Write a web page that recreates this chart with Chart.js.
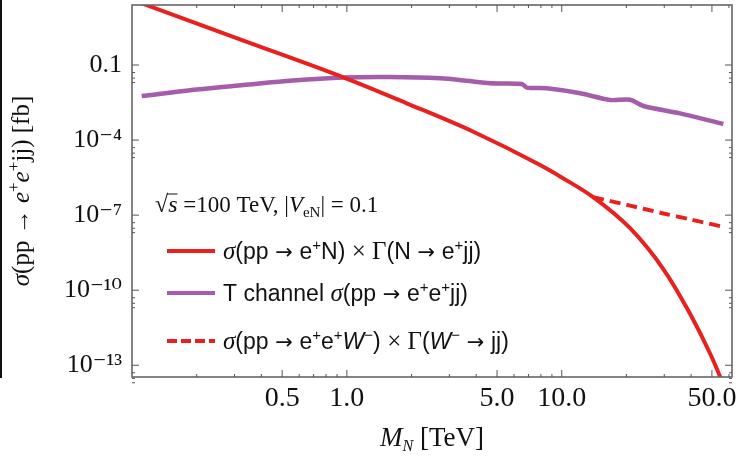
<!DOCTYPE html>
<html>
<head>
<meta charset="utf-8">
<script src="https://cdn.jsdelivr.net/npm/chart.js@4.4.1/dist/chart.umd.min.js"></script>
<style>
  html, body { margin: 0; padding: 0; background: #fff; }
  #wrap { width: 742px; height: 458px; }
</style>
</head>
<body>
<div id="wrap"><canvas id="chart" width="742" height="458"></canvas></div>
<script>
// sigma(pp -> e+ N) x Gamma(N -> e+ jj), solid red
const nMass = [0.1, 0.113, 0.33, 0.964, 1.9, 3.88, 7.93, 10.0, 14.0, 20.8, 29.7, 39.5, 49.0, 54.6, 59.5];
const nSigma = [40.7, 27.5, 0.946, 0.0322, 2.95e-3, 2.15e-4, 1.0e-5, 3.2e-6, 5.25e-7, 3.0e-8, 7.0e-10, 1.17e-11, 2.95e-13, 3.4e-14, 4e-15];

// T channel sigma(pp -> e+ e+ jj), purple
const tMass = [0.111, 0.2, 0.33, 0.56, 0.964, 1.58, 2.72, 3.61, 4.65, 6.52, 6.88, 8.51, 12.2, 16.8, 20.8, 24.0, 35.5, 56.5];
const tSigma = [5.75e-3, 0.0105, 0.0158, 0.024, 0.0316, 0.0331, 0.0295, 0.0234, 0.0186, 0.0175, 0.0125, 0.0117, 7.4e-3, 4.0e-3, 4.1e-3, 2.3e-3, 1.17e-3, 4.4e-4];

// sigma(pp -> e+ e+ W-) x Gamma(W- -> jj), dashed red
const wMass = [14.0, 20.8, 29.7, 39.5, 56.5];
const wSigma = [5.25e-7, 2.4e-7, 1.17e-7, 6.8e-8, 3.4e-8];

const xTicks = [0.5, 1, 5, 10, 50];
const xTickLabels = ['0.5', '1.0', '5.0', '10.0', '50.0'];
const yTicks = [1e-13, 1e-10, 1e-7, 1e-4, 1e-1];
const yTickLabels = ['10\u207B\u00B9\u00B3', '10\u207B\u00B9\u2070', '10\u207B\u2077', '10\u207B\u2074', '0.1'];

const RED = '#e8201f';
const PURPLE = '#a45cab';
const SERIF = '"Liberation Serif", "DejaVu Serif", serif';
const SANS = '"Liberation Sans", Arial, sans-serif';
const ARROW = '"DejaVu Sans", sans-serif';

const pts = (xs, ys) => xs.map((x, i) => ({ x: x, y: ys[i] }));

function seg(t, fam, size, style, dy) {
  return { t: t, font: (style || '') + ' ' + size + 'px ' + fam, dy: dy || 0 };
}

function drawRich(ctx, segs, x, y, align) {
  ctx.save();
  ctx.textBaseline = 'alphabetic';
  ctx.textAlign = 'left';
  let w = 0;
  segs.forEach(s => { ctx.font = s.font; s.w = ctx.measureText(s.t).width; w += s.w; });
  let cx = align === 'center' ? x - w / 2 : x;
  segs.forEach(s => {
    ctx.font = s.font;
    ctx.fillText(s.t, cx, y + s.dy);
    if (s.over) {
      ctx.lineWidth = 1;
      ctx.beginPath();
      ctx.moveTo(cx - 1, y - s.over);
      ctx.lineTo(cx + s.w, y - s.over);
      ctx.stroke();
    }
    cx += s.w;
  });
  ctx.restore();
}

// legend text pieces: sans text, superscripts, arrows
const L = 23;
const sans = t => seg(t, SANS, L);
const sup = t => seg(t, SANS, 15, '', -9);
const arr = () => seg(' \u2192 ', ARROW, 21);
const sig = () => seg('\u03C3', SERIF, 25, 'italic');

const decor = {
  id: 'decor',
  afterDraw(chart) {
    const ctx = chart.ctx;
    const a = chart.chartArea;
    const xs = chart.scales.x, ys = chart.scales.y;
    ctx.save();

    // stray left edge line of the original scan
    ctx.fillStyle = '#111';
    ctx.fillRect(0, 0, 2, a.bottom + 1);

    // frame
    ctx.strokeStyle = '#666';
    ctx.lineWidth = 1.6;
    ctx.strokeRect(a.left, a.top, a.right - a.left, a.bottom - a.top);

    // inner ticks
    ctx.strokeStyle = '#555';
    ctx.lineWidth = 1;
    const xMinor = [];
    [0.1, 1, 10].forEach(d => { for (let k = 2; k <= 9; k++) if (d * k <= 62) xMinor.push(d * k); });
    xMinor.concat([1, 10]).forEach(v => {
      const px = xs.getPixelForValue(v);
      const len = xTicks.includes(v) ? 7 : 3;
      ctx.beginPath();
      ctx.moveTo(px, a.bottom); ctx.lineTo(px, a.bottom - len);
      ctx.moveTo(px, a.top); ctx.lineTo(px, a.top + len);
      ctx.stroke();
    });
    yTicks.forEach(v => {
      [1, 0.5, 0.3, 0.2].forEach(f => {
        const py = ys.getPixelForValue(v * f);
        const len = f === 1 ? 7 : 3;
        ctx.beginPath();
        ctx.moveTo(a.left, py); ctx.lineTo(a.left + len, py);
        ctx.moveTo(a.right, py); ctx.lineTo(a.right - len, py);
        ctx.stroke();
      });
    });

    ctx.fillStyle = '#111';
    ctx.strokeStyle = '#111';

    // y title (rotated)
    ctx.save();
    ctx.translate(20, 191);
    ctx.rotate(-Math.PI / 2);
    drawRich(ctx, [
      seg('\u03C3', SERIF, 25, 'italic'),
      seg('(pp \u2192 ', SERIF, 25),
      seg('e', SERIF, 25, 'italic'),
      seg('+', SERIF, 17, '', -10),
      seg('e', SERIF, 25, 'italic'),
      seg('+', SERIF, 17, '', -10),
      seg('jj) [fb]', SERIF, 25)
    ], 0, 9, 'center');
    ctx.restore();

    // x title
    drawRich(ctx, [
      seg('M', SERIF, 27, 'italic'),
      seg('N', SERIF, 16, 'italic', 5),
      seg(' [TeV]', SERIF, 27)
    ], 432, 446, 'center');

    // annotation
    const ann = [
      seg('\u221A', SERIF, 24),
      seg('s', SERIF, 24, 'italic'),
      seg(' =100 TeV, |', SERIF, 23),
      seg('V', SERIF, 23, 'italic'),
      seg('eN', SERIF, 15, '', 5),
      seg('| = 0.1', SERIF, 23)
    ];
    ann[1].over = 18;
    drawRich(ctx, ann, 155, 212, 'left');

    // legend
    const rows = [
      { y: 251, color: RED, dash: [],
        segs: [sig(), sans('(pp'), arr(), sans('e'), sup('+'), sans('N) '),
          seg('\u00D7 \u0393', SERIF, 25), sans('(N'), arr(), sans('e'), sup('+'), sans('jj)')] },
      { y: 293, color: PURPLE, dash: [],
        segs: [sans('T channel '), sig(), sans('(pp'), arr(), sans('e'), sup('+'),
          sans('e'), sup('+'), sans('jj)')] },
      { y: 341, color: RED, dash: [10, 4],
        segs: [sig(), sans('(pp'), arr(), sans('e'), sup('+'), sans('e'), sup('+'),
          seg('W', SANS, L, 'italic'), sup('\u2212'), sans(') '), seg('\u00D7 \u0393', SERIF, 25),
          sans('('), seg('W', SANS, L, 'italic'), sup('\u2212'), arr(), sans('jj)')] }
    ];
    rows.forEach(r => {
      ctx.save();
      ctx.strokeStyle = r.color;
      ctx.lineWidth = 4;
      ctx.setLineDash(r.dash);
      ctx.beginPath();
      ctx.moveTo(167, r.y); ctx.lineTo(215, r.y);
      ctx.stroke();
      ctx.restore();
      drawRich(ctx, r.segs, 223, r.y + 8, 'left');
    });

    ctx.restore();
  }
};

new Chart(document.getElementById('chart'), {
  type: 'line',
  data: {
    datasets: [
      { label: 'N', data: pts(nMass, nSigma), borderColor: RED, borderWidth: 4,
        pointRadius: 0, cubicInterpolationMode: 'monotone', fill: false },
      { label: 'T', data: pts(tMass, tSigma), borderColor: PURPLE, borderWidth: 4.5,
        pointRadius: 0, tension: 0.3, fill: false },
      { label: 'W', data: pts(wMass, wSigma), borderColor: RED, borderWidth: 4,
        borderDash: [11, 6], pointRadius: 0, tension: 0.3, fill: false }
    ]
  },
  options: {
    responsive: false,
    animation: false,
    devicePixelRatio: 1,
    layout: { padding: { left: 0, right: 10, top: 5, bottom: 0 } },
    plugins: { legend: { display: false }, tooltip: { enabled: false } },
    scales: {
      x: {
        type: 'logarithmic', min: 0.1, max: 62,
        afterBuildTicks: s => { s.ticks = xTicks.map(v => ({ value: v })); },
        afterFit: s => { s.height = 81; s.paddingLeft = 0; s.paddingRight = 0; },
        ticks: {
          callback: v => xTickLabels[xTicks.indexOf(v)],
          font: { family: SERIF, size: 28 }, color: '#111',
          padding: 5, maxRotation: 0, autoSkip: false
        },
        grid: { display: false, drawTicks: false },
        border: { display: false }
      },
      y: {
        type: 'logarithmic', min: 3.4e-14, max: 25,
        afterBuildTicks: s => { s.ticks = yTicks.map(v => ({ value: v })); },
        afterFit: s => { s.width = 132; s.paddingTop = 0; s.paddingBottom = 0; },
        ticks: {
          callback: v => yTickLabels[yTicks.indexOf(v)],
          font: { family: SERIF, size: 26 }, color: '#111',
          padding: 10, autoSkip: false
        },
        grid: { display: false, drawTicks: false },
        border: { display: false }
      }
    }
  },
  plugins: [decor]
});
</script>
</body>
</html>
